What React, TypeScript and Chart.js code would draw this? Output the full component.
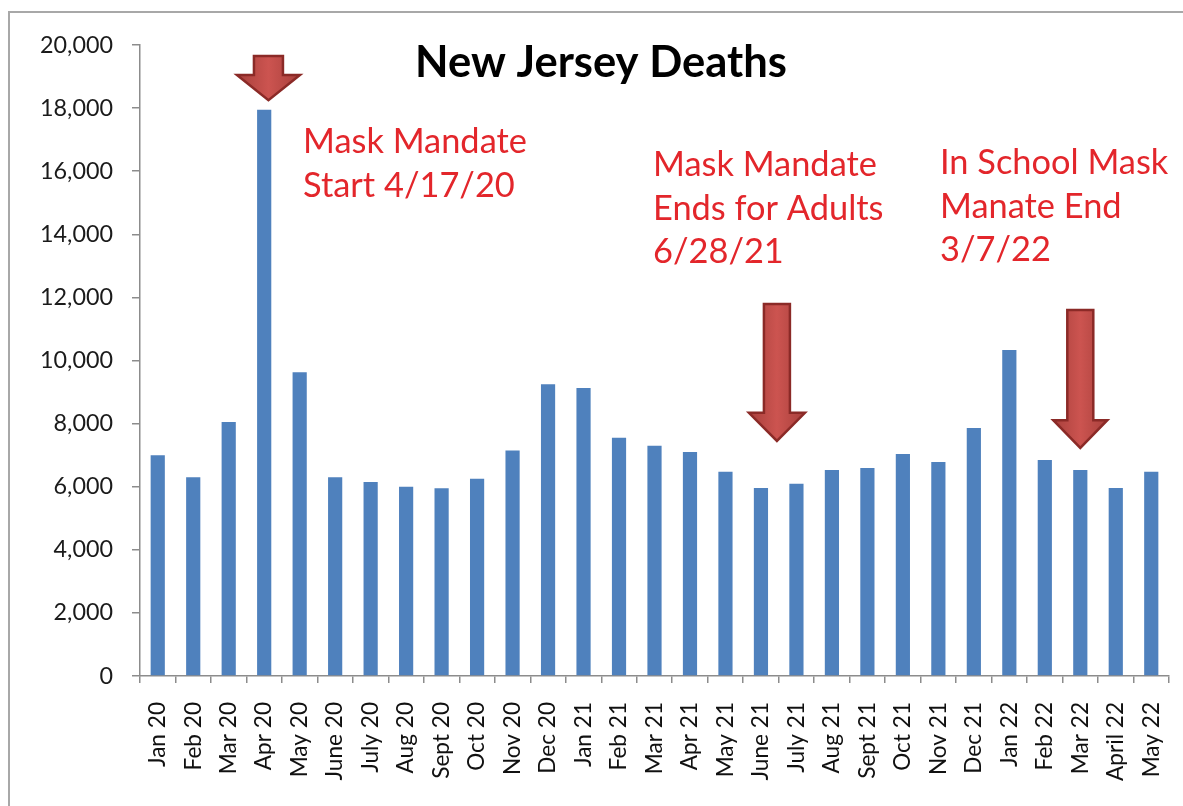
import { useEffect, useRef } from "react";
import { Chart, registerables } from "chart.js";

Chart.register(...registerables);

// ---------- data ----------
const months = [
  "Jan 20", "Feb 20", "Mar 20", "Apr 20", "May 20", "June 20", "July 20", "Aug 20",
  "Sept 20", "Oct 20", "Nov 20", "Dec 20", "Jan 21", "Feb 21", "Mar 21", "Apr 21",
  "May 21", "June 21", "July 21", "Aug 21", "Sept 21", "Oct 21", "Nov 21", "Dec 21",
  "Jan 22", "Feb 22", "Mar 22", "April 22", "May 22",
];
const deaths = [
  7000, 6300, 8050, 17950, 9630, 6300, 6150, 6000,
  5950, 6250, 7150, 9250, 9130, 7550, 7300, 7100,
  6470, 5960, 6090, 6530, 6590, 7040, 6780, 7860,
  10330, 6850, 6530, 5960, 6470,
];
const yTickValues = [0, 2000, 4000, 6000, 8000, 10000, 12000, 14000, 16000, 18000, 20000];

const title = "New Jersey Deaths";

// annotation arrows: category position (fractional index), values for top / neck / tip
const arrowAt = [3.12, 17.45, 26.0];
const arrowTop = [19650, 11790, 11600];
const arrowNeck = [19050, 8340, 8110];
const arrowTip = [18250, 7450, 7230];

const noteLines = [
  ["Mask Mandate", "Start 4/17/20"],
  ["Mask Mandate", "Ends for Adults", "6/28/21"],
  ["In School Mask", "Manate End", "3/7/22"],
];

// ---------- style / layout ----------
const W = 1183;
const H = 806;
const FAMILY = "Lato";
const BAR = "#4F81BD";
const AXIS = "#8c8c8c";
const RED = "#E3262B";
const notePos = [
  { x: 303, y: 153 },
  { x: 653, y: 176 },
  { x: 940, y: 174 },
];
const NOTE_LH = 43.5;
const arrowShaft = [14.5, 13, 13];
const arrowHead = [31.5, 28, 27];

function fitSize(text: string, weight: string, target: number) {
  const c = document.createElement("canvas").getContext("2d")!;
  const base = 40;
  c.font = `${weight} ${base}px ${FAMILY}`;
  const w = c.measureText(text).width;
  return (base * target) / w;
}

export default function App() {
  const ref = useRef<HTMLCanvasElement>(null);

  useEffect(() => {
    const canvas = ref.current!;
    const yTickSize = fitSize("20,000", "normal", 73);
    const xTickSize = fitSize("Jan 20", "normal", 65);
    const titleSize = fitSize(title, "bold", 372);
    const noteSize = fitSize("Mask Mandate", "normal", 224);

    const overlay = {
      id: "overlay",
      beforeDraw(chart: any) {
        const { ctx } = chart;
        ctx.save();
        ctx.strokeStyle = "#a8a8a8";
        ctx.lineWidth = 2;
        ctx.strokeRect(9, 12, 1400, 1000);
        ctx.restore();
      },
      afterDatasetsDraw(chart: any) {
        const { ctx } = chart;
        const xs = chart.scales.x;
        const ys = chart.scales.y;
        ctx.save();
        // arrows
        arrowAt.forEach((at, i) => {
          const cx = xs.getPixelForValue(at);
          const top = ys.getPixelForValue(arrowTop[i]);
          const neck = ys.getPixelForValue(arrowNeck[i]);
          const tip = ys.getPixelForValue(arrowTip[i]);
          const sw = arrowShaft[i];
          const hw = arrowHead[i];
          const g = ctx.createLinearGradient(cx - hw, 0, cx + hw, 0);
          g.addColorStop(0, "#A8403C");
          g.addColorStop(0.5, "#CC5450");
          g.addColorStop(1, "#A8403C");
          ctx.beginPath();
          ctx.moveTo(cx - sw, top);
          ctx.lineTo(cx + sw, top);
          ctx.lineTo(cx + sw, neck);
          ctx.lineTo(cx + hw, neck);
          ctx.lineTo(cx, tip);
          ctx.lineTo(cx - hw, neck);
          ctx.lineTo(cx - sw, neck);
          ctx.closePath();
          ctx.fillStyle = g;
          ctx.fill();
          ctx.strokeStyle = "#8B2A27";
          ctx.lineWidth = 2.5;
          ctx.lineJoin = "miter";
          ctx.stroke();
        });
        // notes
        ctx.fillStyle = RED;
        ctx.font = `normal ${noteSize}px ${FAMILY}`;
        ctx.textAlign = "left";
        ctx.textBaseline = "alphabetic";
        noteLines.forEach((lines, i) => {
          lines.forEach((ln, j) => {
            ctx.fillText(ln, notePos[i].x, notePos[i].y + j * NOTE_LH);
          });
        });
        // title
        ctx.fillStyle = "#000";
        ctx.font = `bold ${titleSize}px ${FAMILY}`;
        ctx.textAlign = "center";
        ctx.fillText(title, 601, 77);
        ctx.restore();
      },
    };

    const chart = new Chart(canvas, {
      type: "bar",
      data: {
        labels: months,
        datasets: [
          {
            data: deaths,
            backgroundColor: BAR,
            borderWidth: 0,
            barPercentage: 0.4,
            categoryPercentage: 1,
          },
        ],
      },
      options: {
        animation: false,
        responsive: false,
        devicePixelRatio: 1,
        layout: { padding: { left: 0, right: 0, top: 45, bottom: 0 } },
        plugins: {
          legend: { display: false },
          tooltip: { enabled: false },
          title: { display: false },
        },
        scales: {
          x: {
            grid: {
              display: true,
              drawOnChartArea: false,
              drawTicks: true,
              tickLength: 7,
              color: AXIS,
              lineWidth: 1.5,
              offset: true,
            },
            border: { display: true, color: AXIS, width: 1.5 },
            ticks: {
              autoSkip: false,
              minRotation: 90,
              maxRotation: 90,
              padding: 19,
              color: "#111",
              font: { family: FAMILY, size: xTickSize },
            },
            afterFit: (s: any) => {
              s.height = 130;
              s.paddingRight = 14;
              s.paddingLeft = 0;
            },
          },
          y: {
            min: 0,
            max: 20000,
            afterBuildTicks: (s: any) => {
              s.ticks = yTickValues.map((v) => ({ value: v }));
            },
            grid: {
              display: true,
              drawOnChartArea: false,
              drawTicks: true,
              tickLength: 8,
              color: AXIS,
              lineWidth: 1.5,
            },
            border: { display: true, color: AXIS, width: 1.5 },
            ticks: {
              padding: 19,
              color: "#1a1a1a",
              font: { family: FAMILY, size: yTickSize },
              callback: (v: any) => Number(v).toLocaleString("en-US"),
            },
            afterFit: (s: any) => {
              s.width = 140;
            },
          },
        },
      },
      plugins: [overlay],
    });
    return () => chart.destroy();
  }, []);

  return (
    <div
      style={{
        position: "fixed",
        left: 0,
        top: 0,
        width: W,
        height: H,
        background: "#fff",
        overflow: "hidden",
      }}
    >
      <canvas ref={ref} width={W} height={H} style={{ display: "block" }} />
    </div>
  );
}
